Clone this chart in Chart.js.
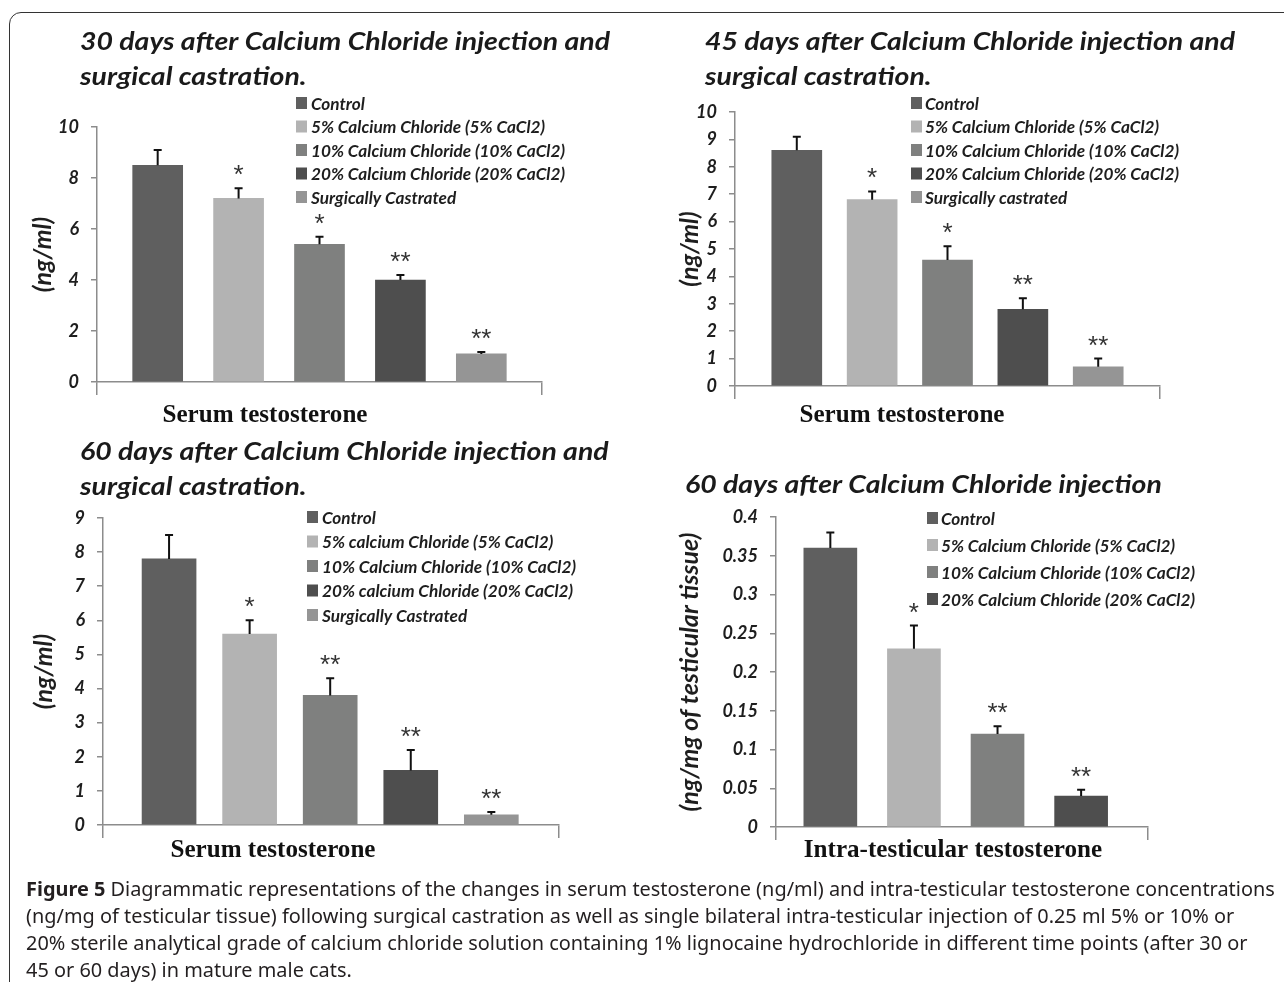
<!DOCTYPE html>
<html>
<head>
<meta charset="utf-8">
<script src="https://cdn.jsdelivr.net/npm/chart.js@4.4.1/dist/chart.umd.min.js"></script>
<style>
  body { margin: 0; background: #fff; }
  #page { position: relative; width: 1284px; height: 982px; overflow: hidden; }
  #frame { position: absolute; left: 9px; top: 12px; width: 1300px; height: 1000px;
           border: 1.5px solid #333; border-radius: 12px; }
  #page canvas { position: absolute; left: 0; top: 0; }
  .cap { position: absolute; left: 26px; white-space: nowrap; color: #231f20; font-size: 19px;
         line-height: 27px; transform-origin: 0 50%;
         font-family: "Noto Sans", "Open Sans", sans-serif; }
</style>
</head>
<body>
<div id="page">
  <div id="frame"></div>
  <canvas id="c30" width="1284" height="982"></canvas>
  <canvas id="c45" width="1284" height="982"></canvas>
  <canvas id="c60" width="1284" height="982"></canvas>
  <canvas id="cIT" width="1284" height="982"></canvas>
  <div class="cap" id="cap1"><b>Figure 5</b> Diagrammatic representations of the changes in serum testosterone (ng/ml) and intra-testicular testosterone concentrations</div>
  <div class="cap" id="cap2">(ng/mg of testicular tissue) following surgical castration as well as single bilateral intra-testicular injection of 0.25 ml 5% or 10% or</div>
  <div class="cap" id="cap3">20% sterile analytical grade of calcium chloride solution containing 1% lignocaine hydrochloride in different time points (after 30 or</div>
  <div class="cap" id="cap4">45 or 60 days) in mature male cats.</div>
</div>
<script>
// values
const barColors = ['#5f5f5f', '#b3b3b3', '#7f807f', '#4e4e4e', '#959595']

const groups30 = ['Control', '5% Calcium Chloride (5% CaCl2)', '10% Calcium Chloride (10% CaCl2)', '20% Calcium Chloride (20% CaCl2)', 'Surgically Castrated']
const mean30 = [8.5, 7.2, 5.4, 4.0, 1.1]
const err30 = [0.6, 0.4, 0.3, 0.2, 0.08]
const stars30 = ['', '*', '*', '**', '**']

const groups45 = ['Control', '5% Calcium Chloride (5% CaCl2)', '10% Calcium Chloride (10% CaCl2)', '20% Calcium Chloride (20% CaCl2)', 'Surgically castrated']
const mean45 = [8.6, 6.8, 4.6, 2.8, 0.7]
const err45 = [0.5, 0.3, 0.5, 0.4, 0.3]
const stars45 = ['', '*', '*', '**', '**']

const groups60 = ['Control', '5% calcium Chloride (5% CaCl2)', '10% Calcium Chloride (10% CaCl2)', '20% calcium Chloride (20% CaCl2)', 'Surgically Castrated']
const mean60 = [7.8, 5.6, 3.8, 1.6, 0.3]
const err60 = [0.7, 0.4, 0.5, 0.6, 0.08]
const stars60 = ['', '*', '**', '**', '**']

const groupsIT = ['Control', '5% Calcium Chloride (5% CaCl2)', '10% Calcium Chloride (10% CaCl2)', '20% Calcium Chloride (20% CaCl2)']
const meanIT = [0.36, 0.23, 0.12, 0.04]
const errIT = [0.02, 0.03, 0.01, 0.008]
const starsIT = ['', '*', '**', '**']

const W = 1284, H = 982
const calibri = 'Lato, "Open Sans", sans-serif'
const serif = '"Liberation Serif", "Times New Roman", serif'

function measure(text, font) {
  const c = document.createElement('canvas').getContext('2d')
  c.font = font
  return c.measureText(text).width
}

// Lato is wider than Calibri: draw a bit taller and squeeze horizontally
const legendSize = 17.5
const legendFont = 'italic bold ' + legendSize + 'px ' + calibri
const legendSqueeze = 254 / measure('20% Calcium Chloride (20% CaCl2)', legendFont)
const titleSize = 25
const titleFont = 'italic bold ' + titleSize + 'px ' + calibri
const titleSqueeze = 530 / measure('30 days after Calcium Chloride injection and', titleFont)
const xLabelSize = 100 * 205 / measure('Serum testosterone', 'bold 100px ' + serif)

function squeezedText(ctx, text, x, y, k) {
  ctx.save()
  ctx.translate(x, y)
  ctx.scale(k, 1)
  ctx.fillText(text, 0, 0)
  ctx.restore()
}

function decor(p, L) {
  return {
    id: 'decor',
    afterDatasetsDraw(chart) {
      const { ctx, scales: { x, y } } = chart
      ctx.save()
      // error bars + significance stars
      p.mean.forEach((v, i) => {
        const cx = x.getPixelForValue(i)
        const base = y.getPixelForValue(v)
        const top = y.getPixelForValue(v + p.err[i])
        ctx.strokeStyle = '#111'
        ctx.lineWidth = 2
        ctx.beginPath()
        ctx.moveTo(cx, base); ctx.lineTo(cx, top)
        ctx.moveTo(cx - 4, top); ctx.lineTo(cx + 4, top)
        ctx.stroke()
        if (p.stars[i]) {
          ctx.font = '26px "Liberation Sans", Arial, sans-serif'
          ctx.fillStyle = '#333'
          ctx.textAlign = 'center'
          ctx.textBaseline = 'alphabetic'
          ctx.fillText(p.stars[i], cx, top - 20 + 15)
        }
      })
      // legend
      ctx.font = legendFont
      ctx.textAlign = 'left'
      ctx.textBaseline = 'middle'
      p.groups.forEach((g, i) => {
        const ry = L.legend[2] + i * L.legend[3]
        ctx.fillStyle = barColors[i]
        ctx.fillRect(L.legend[0], ry - 6, 11, 12)
        ctx.fillStyle = '#1e1e1e'
        squeezedText(ctx, g, L.legend[1], ry + 1, legendSqueeze)
      })
      // panel title
      ctx.font = titleFont
      ctx.fillStyle = '#1a1a1a'
      p.title.forEach((t, i) => squeezedText(ctx, t, L.title[0], L.title[1] + i * 35, titleSqueeze))
      // x label
      ctx.font = 'bold ' + xLabelSize + 'px ' + serif
      ctx.textAlign = 'center'
      ctx.fillStyle = '#111'
      ctx.fillText(p.xTitle, L.xLabel[0], L.xLabel[1])
      ctx.restore()
    }
  }
}

function makePanel(id, p, L) {
  const yTitleSize = 25
  const yW = L.area[0] - (L.yTitleX - yTitleSize * 0.6)
  return new Chart(document.getElementById(id), {
    type: 'bar',
    data: {
      datasets: [{
        data: p.mean.map((v, i) => ({ x: i, y: v })),
        backgroundColor: barColors.slice(0, p.mean.length),
        barThickness: L.barW,
        borderWidth: 0
      }]
    },
    options: {
      responsive: false,
      animation: false,
      layout: {
        padding: { left: L.area[0] - yW, top: L.area[1], right: W - L.area[2], bottom: H - L.area[3] - 13 }
      },
      plugins: { legend: { display: false }, tooltip: { enabled: false } },
      scales: {
        x: {
          type: 'linear', min: L.xMin, max: L.xMax, offset: false,
          afterBuildTicks: s => { s.ticks = [{ value: s.min }, { value: s.max }] },
          afterFit: s => { s.height = 13 },
          ticks: { display: false },
          grid: { offset: false, drawOnChartArea: false, tickLength: 13, color: '#8c8c8c', lineWidth: 1.5 },
          border: { color: '#8c8c8c', width: 1.5 }
        },
        y: {
          min: 0, max: p.yMax,
          afterFit: s => { s.width = yW },
          ticks: { stepSize: p.yStep, padding: 12, color: '#1e1e1e',
                   font: { family: calibri, weight: 'bold', style: 'italic', size: 18 },
                   callback: v => String(+v.toFixed(2)) },
          grid: { drawOnChartArea: false, tickLength: 6, color: '#8c8c8c', lineWidth: 1.5 },
          border: { color: '#8c8c8c', width: 1.5 },
          title: { display: true, text: p.yTitle, padding: 0, color: '#1e1e1e',
                   font: { family: calibri, weight: 'bold', style: 'italic', size: yTitleSize } }
        }
      }
    },
    plugins: [decor(p, L)]
  })
}

makePanel('c30', {
  groups: groups30, mean: mean30, err: err30, stars: stars30, yMax: 10, yStep: 2,
  yTitle: '(ng/ml)', xTitle: 'Serum testosterone',
  title: ['30 days after Calcium Chloride injection and', 'surgical castration.']
}, { area: [97, 127, 542, 382], xMin: -0.75, xMax: 4.75, barW: 50, yTitleX: 43,
     legend: [296, 311, 103, 23.5], title: [80, 42], xLabel: [265, 416] })

makePanel('c45', {
  groups: groups45, mean: mean45, err: err45, stars: stars45, yMax: 10, yStep: 1,
  yTitle: '(ng/ml)', xTitle: 'Serum testosterone',
  title: ['45 days after Calcium Chloride injection and', 'surgical castration.']
}, { area: [735, 112, 1160, 386], xMin: -0.82, xMax: 4.82, barW: 50, yTitleX: 690,
     legend: [911, 925, 103, 23.5], title: [705, 42], xLabel: [902, 416] })

makePanel('c60', {
  groups: groups60, mean: mean60, err: err60, stars: stars60, yMax: 9, yStep: 1,
  yTitle: '(ng/ml)', xTitle: 'Serum testosterone',
  title: ['60 days after Calcium Chloride injection and', 'surgical castration.']
}, { area: [103, 518, 559, 825], xMin: -0.82, xMax: 4.84, barW: 54, yTitleX: 44,
     legend: [307, 322, 517, 24.5], title: [80, 452], xLabel: [273, 851] })

makePanel('cIT', {
  groups: groupsIT, mean: meanIT, err: errIT, stars: starsIT, yMax: 0.4, yStep: 0.05,
  yTitle: '(ng/mg of testicular tissue)', xTitle: 'Intra-testicular testosterone',
  title: ['60 days after Calcium Chloride injection']
}, { area: [776, 517, 1148, 827], xMin: -0.65, xMax: 3.8, barW: 53, yTitleX: 690,
     legend: [927, 941, 518, 27], title: [685, 485], xLabel: [953, 851] })

// caption squeezed so the first line spans the frame
const capW = document.getElementById('cap1').scrollWidth
const capK = 1249 / capW
;['cap1', 'cap2', 'cap3', 'cap4'].forEach((id, i) => {
  const el = document.getElementById(id)
  el.style.top = (876 + i * 27) + 'px'
  el.style.transform = 'scaleX(' + capK + ')'
})
</script>
</body>
</html>
